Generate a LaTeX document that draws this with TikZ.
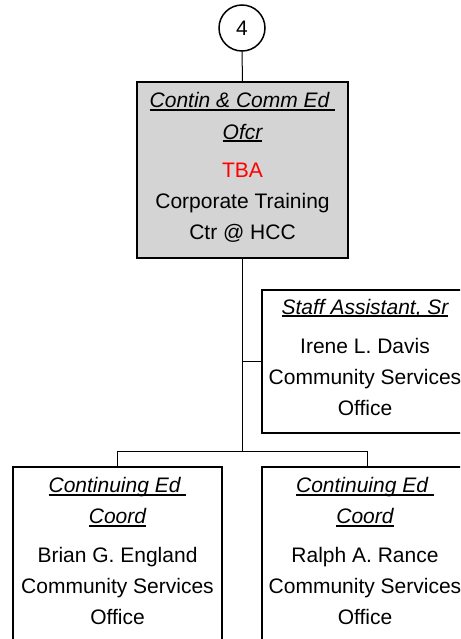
\documentclass[tikz,border=0pt]{standalone}
\usepackage{fontspec}
\setmainfont{Liberation Sans}
\newcommand\ulin[1]{\setbox0\hbox{#1}\rlap{\rule[-3pt]{\wd0}{1.7pt}}\box0}
\definecolor{boxgray}{RGB}{212,212,212}
\begin{document}
\begin{tikzpicture}[x=1pt,y=-1pt,
  every node/.style={font=\fontsize{21pt}{31pt}\selectfont},
  orgbox/.style={draw=black,line width=1.5pt,rectangle,inner sep=0pt},
  txt/.style={align=center,inner sep=0pt,anchor=base},
  conn/.style={draw=black,line width=1pt}]
\useasboundingbox (0,0) rectangle (460,639);
\clip (0,0) rectangle (460,639);
\fill[white] (0,0) rectangle (460,639);
% boxes
\node[orgbox,circle,fill=white,minimum size=46pt] (c4) at (242,28) {4};
\node[orgbox,fill=boxgray,minimum width=211pt,minimum height=176pt] (main) at (242.5,170) {};
\node[orgbox,fill=white,minimum width=210pt,minimum height=143pt] (staff) at (367,361.5) {};
\node[orgbox,fill=white,minimum width=209pt,minimum height=233pt] (left) at (117.5,583.5) {};
\node[orgbox,fill=white,minimum width=210pt,minimum height=233pt] (right) at (367,583.5) {};
% texts (anchor base = baseline of last line)
\node[txt] (mainT) at (242.5,239) {\ulin{\itshape Contin \& Comm Ed\ }\\ \ulin{\itshape Ofcr}\\[7pt] \textcolor{red}{TBA}\\ Corporate Training\\ Ctr @ HCC};
\node[txt] (staffT) at (365,415) {\ulin{\itshape Staff Assistant, Sr}\\[8pt] Irene L. Davis\\ Community Services\\ Office};
\node[txt] (leftT) at (117.5,624) {\ulin{\itshape Continuing Ed\ }\\ \ulin{\itshape Coord}\\[7.5pt] Brian G. England\\ Community Services\\ Office};
\node[txt] (rightT) at (365,624) {\ulin{\itshape Continuing Ed\ }\\ \ulin{\itshape Coord}\\[7.5pt] Ralph A. Rance\\ Community Services\\ Office};
% connectors
\coordinate (j1) at (242.5,361.5);
\coordinate (j2) at (242.5,451);
\draw[conn] (c4.south) -- (main.north);
\draw[conn] (main.south) -- (j2);
\draw[conn] (j1) -- (staff.west);
\draw[conn] (j2) -| (left.north);
\draw[conn] (j2) -| (right.north);
\end{tikzpicture}
\end{document}
